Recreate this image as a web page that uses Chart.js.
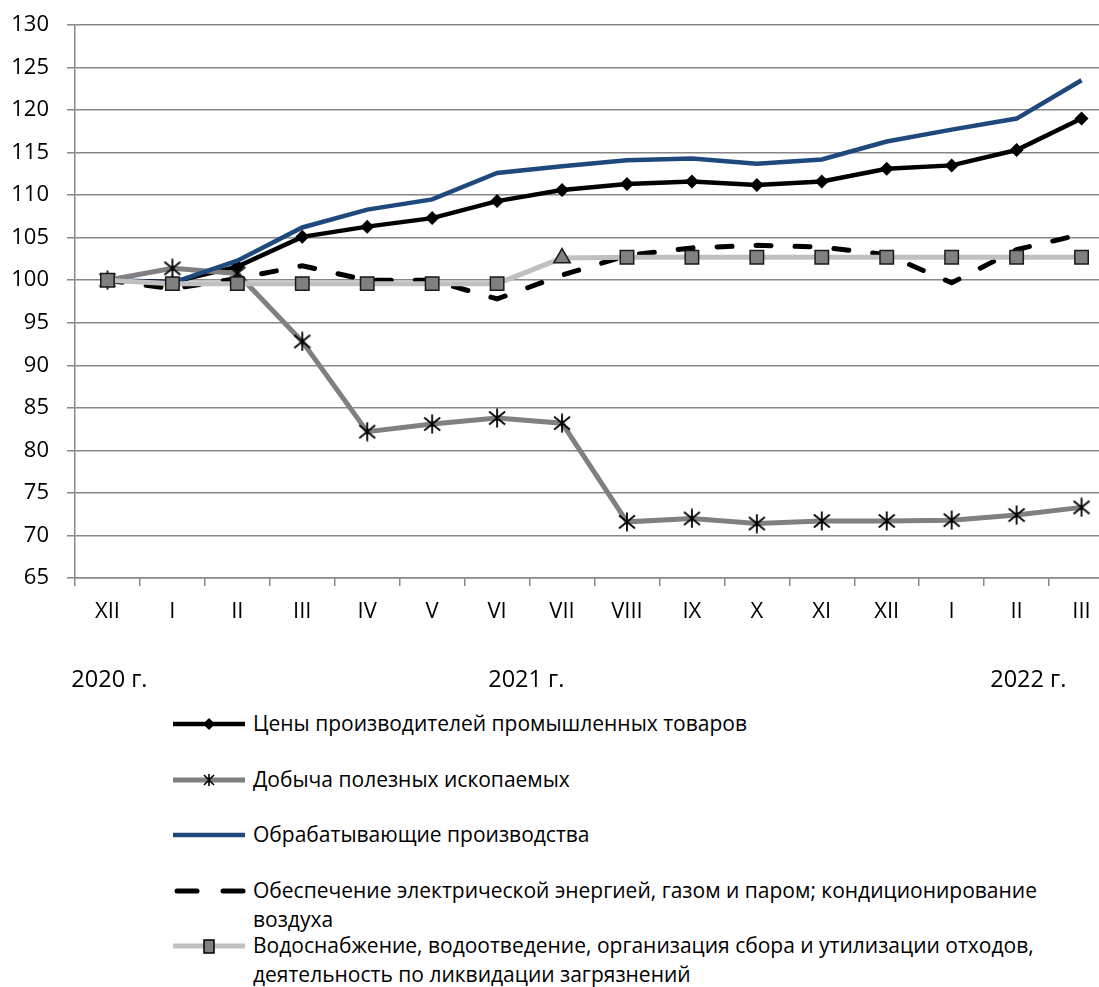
<!DOCTYPE html>
<html lang="ru">
<head>
<meta charset="utf-8">
<script src="https://cdn.jsdelivr.net/npm/chart.js@4.4.0/dist/chart.umd.min.js"></script>
<style>
  html, body { margin: 0; padding: 0; background: #fff; overflow: hidden; }
  body { width: 1099px; height: 987px; position: relative; font-family: "Open Sans", sans-serif; }
  #wrap { position: absolute; left: 0; top: 0; width: 1125px; height: 700px; }
  .leg { position: absolute; left: 173px; font-size: 21px; line-height: 29px; color: #000; }
  .leg svg { position: absolute; left: 0; top: 4px; }
  .leg span { position: absolute; left: 80px; top: 0; white-space: nowrap; }
</style>
</head>
<body>
<div id="wrap"><canvas id="chart" width="1125" height="700"></canvas></div>

<div class="leg" style="top:709px">
  <svg width="75" height="22"><line x1="0" y1="11" x2="72" y2="11" stroke="#000" stroke-width="4.5"/><path d="M36 5 L42 11 L36 17 L30 11 Z" fill="#000"/></svg>
  <span>Цены производителей промышленных товаров</span>
</div>
<div class="leg" style="top:765px">
  <svg width="75" height="22"><line x1="0" y1="11" x2="72" y2="11" stroke="#808080" stroke-width="5"/><path d="M31 6 L41 16 M41 6 L31 16 M36 5 L36 17" stroke="#000" stroke-width="1.6"/></svg>
  <span>Добыча полезных ископаемых</span>
</div>
<div class="leg" style="top:820px">
  <svg width="75" height="22"><line x1="0" y1="11" x2="72" y2="11" stroke="#1f497d" stroke-width="4.5"/></svg>
  <span>Обрабатывающие производства</span>
</div>
<div class="leg" style="top:876px">
  <svg width="75" height="22"><line x1="4" y1="11" x2="24" y2="11" stroke="#000" stroke-width="5" stroke-linecap="round"/><line x1="50" y1="11" x2="70" y2="11" stroke="#000" stroke-width="5" stroke-linecap="round"/></svg>
  <span>Обеспечение электрической энергией, газом и паром; кондиционирование<br>воздуха</span>
</div>
<div class="leg" style="top:931px">
  <svg width="75" height="22"><line x1="0" y1="11" x2="72" y2="11" stroke="#c0c0c0" stroke-width="5"/><rect x="31" y="5" width="10" height="13" fill="#808080" stroke="#000" stroke-width="1.5"/></svg>
  <span>Водоснабжение, водоотведение, организация сбора и утилизации отходов,<br>деятельность по ликвидации загрязнений</span>
</div>

<script>
// months, Dec 2020 .. Mar 2022
const months = ['XII', 'I', 'II', 'III', 'IV', 'V', 'VI', 'VII', 'VIII', 'IX', 'X', 'XI', 'XII', 'I', 'II', 'III'];
const years = ['2020 г.', '2021 г.', '2022 г.'];

// index values, Dec 2020 = 100
const producerPrices = [100, 99.8, 101.6, 105.1, 106.3, 107.3, 109.3, 110.6, 111.3, 111.6, 111.2, 111.6, 113.1, 113.5, 115.3, 119.0];
const mining = [100, 101.4, 100.8, 92.8, 82.2, 83.1, 83.8, 83.2, 71.6, 72.0, 71.4, 71.7, 71.7, 71.8, 72.4, 73.3];
const manufacturing = [100, 99.7, 102.3, 106.2, 108.3, 109.5, 112.6, 113.4, 114.1, 114.3, 113.7, 114.2, 116.3, 117.7, 119.0, 123.5];
const electricity = [100, 99.0, 100.2, 101.7, 100.0, 100.0, 97.8, 100.6, 102.9, 103.8, 104.1, 103.9, 103.0, 99.7, 103.6, 105.4];
const water = [100, 99.6, 99.6, 99.6, 99.6, 99.6, 99.6, 102.6, 102.7, 102.7, 102.7, 102.7, 102.7, 102.7, 102.7, 102.7];

const gridColor = '#878787';
const fontFamily = '"Open Sans", sans-serif';

// asterisk marker (X with a vertical stroke)
const star = document.createElement('canvas');
star.width = 20; star.height = 20;
const sctx = star.getContext('2d');
sctx.strokeStyle = '#000';
sctx.lineWidth = 1.8;
sctx.beginPath();
sctx.moveTo(2, 3.5); sctx.lineTo(18, 16.5);
sctx.moveTo(18, 3.5); sctx.lineTo(2, 16.5);
sctx.moveTo(10, 0.5); sctx.lineTo(10, 19.5);
sctx.stroke();

const waterStyles = water.map((v, i) => i === 7 ? 'triangle' : 'rect');

// year captions under the month labels
const yearPlugin = {
  id: 'years',
  afterDraw(chart) {
    const ctx = chart.ctx;
    const x = chart.scales.x;
    const at = [0.03, 6.45, 14.18];
    ctx.save();
    ctx.fillStyle = '#000';
    ctx.font = '23.5px ' + fontFamily;
    ctx.textAlign = 'center';
    ctx.textBaseline = 'middle';
    years.forEach((t, i) => {
      const px = x.getPixelForValue(0) + at[i] * (x.getPixelForValue(1) - x.getPixelForValue(0));
      ctx.fillText(t, px, 680);
    });
    ctx.restore();
  }
};

new Chart(document.getElementById('chart').getContext('2d'), {
  type: 'line',
  data: {
    labels: months,
    datasets: [
      {
        label: 'Цены производителей промышленных товаров',
        data: producerPrices,
        borderColor: '#000',
        backgroundColor: '#000',
        borderWidth: 4.5,
        pointStyle: 'rectRot',
        pointRadius: 7,
        pointBorderWidth: 0,
        order: 5
      },
      {
        label: 'Добыча полезных ископаемых',
        data: mining,
        borderColor: '#808080',
        borderWidth: 5,
        pointStyle: star,
        order: 4
      },
      {
        label: 'Обрабатывающие производства',
        data: manufacturing,
        borderColor: '#1f497d',
        borderWidth: 4.5,
        pointRadius: 0,
        order: 3
      },
      {
        label: 'Обеспечение электрической энергией, газом и паром; кондиционирование воздуха',
        data: electricity,
        borderColor: '#000',
        borderWidth: 5,
        borderDash: [15, 24],
        borderCapStyle: 'round',
        pointRadius: 0,
        order: 2
      },
      {
        label: 'Водоснабжение, водоотведение, организация сбора и утилизации отходов, деятельность по ликвидации загрязнений',
        data: water,
        borderColor: '#c0c0c0',
        borderWidth: 5,
        backgroundColor: '#808080',
        pointStyle: waterStyles,
        pointRadius: 9.5,
        pointBorderColor: '#1a1a1a',
        pointBorderWidth: 1.5,
        order: 1
      }
    ]
  },
  options: {
    responsive: false,
    animation: false,
    events: [],
    layout: { padding: { top: 25, right: 0, bottom: 0, left: 0 } },
    plugins: {
      legend: { display: false },
      tooltip: { enabled: false }
    },
    elements: { line: { tension: 0 } },
    scales: {
      x: {
        offset: true,
        afterFit(scale) { scale.height = 122; },
        grid: {
          offset: true,
          drawOnChartArea: false,
          drawTicks: true,
          tickLength: 8,
          color: gridColor,
          lineWidth: 1.5
        },
        border: { color: gridColor, width: 1.5 },
        ticks: {
          autoSkip: false,
          maxRotation: 0,
          padding: 13,
          color: '#000',
          font: { family: fontFamily, size: 22 }
        }
      },
      y: {
        min: 65,
        max: 130,
        afterFit(scale) {
          scale.width = 75;
          scale.paddingTop = 0;
          scale.paddingBottom = 0;
        },
        grid: { color: gridColor, lineWidth: 1.5, tickLength: 8 },
        border: { color: gridColor, width: 1.5 },
        ticks: {
          stepSize: 5,
          padding: 18,
          color: '#000',
          font: { family: fontFamily, size: 22 }
        }
      }
    }
  },
  plugins: [yearPlugin]
});
</script>
</body>
</html>
